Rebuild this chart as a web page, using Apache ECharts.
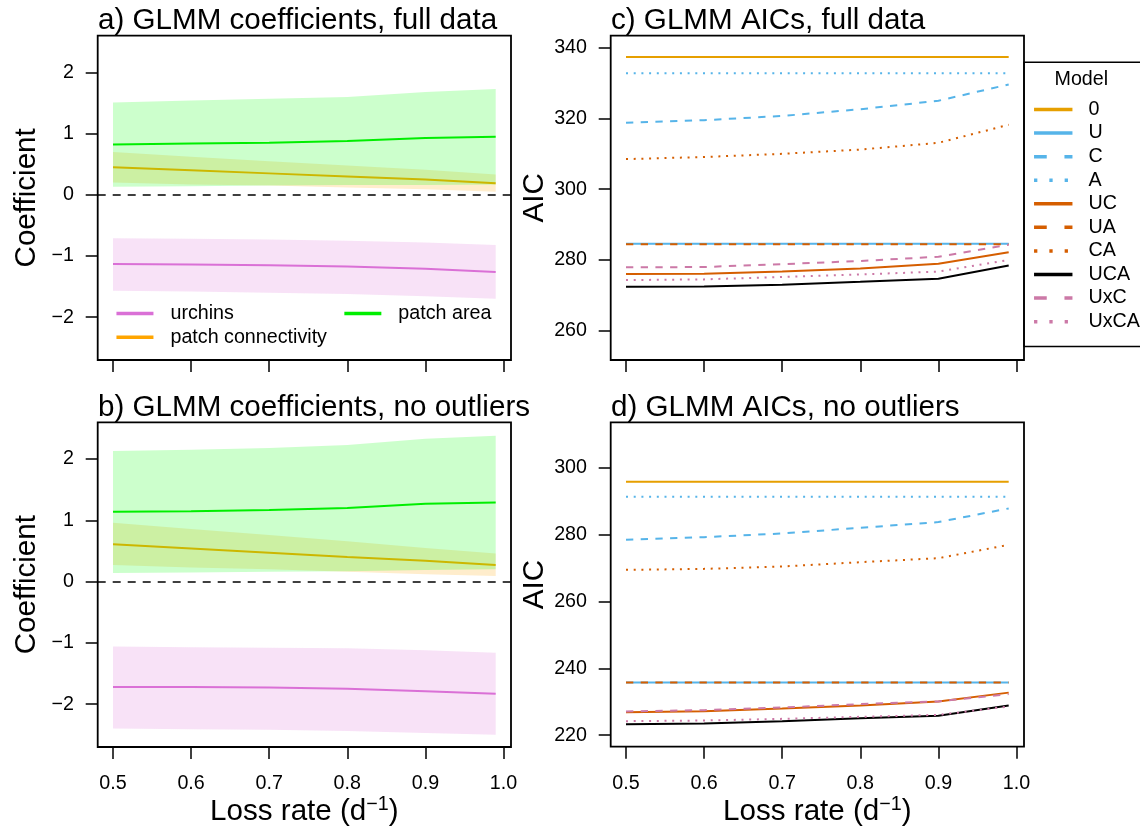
<!DOCTYPE html>
<html><head><meta charset="utf-8">
<script src="https://cdn.jsdelivr.net/npm/echarts@6/dist/echarts.min.js"></script>
<style>html,body{margin:0;padding:0;background:#fff}#c{width:1140px;height:826px}</style>
</head><body><div id="c"></div>
<script>
// ---------------- DATA ----------------
const lossRate = [0.5, 0.6, 0.7, 0.8, 0.9, 0.99];
const xTicks = [0.5, 0.6, 0.7, 0.8, 0.9, 1.0];
const coefTicks = [-2, -1, 0, 1, 2];
const aicFullTicks = [260, 280, 300, 320, 340];
const aicNoOutTicks = [220, 240, 260, 280, 300];

// a) coefficients, full data
const urchinsA    = [-1.13, -1.14, -1.15, -1.17, -1.21, -1.26];
const urchinsA_lo = [-1.57, -1.58, -1.60, -1.62, -1.66, -1.70];
const urchinsA_hi = [-0.71, -0.72, -0.73, -0.75, -0.78, -0.82];
const connA       = [0.45, 0.40, 0.35, 0.30, 0.25, 0.19];
const connA_lo    = [0.20, 0.17, 0.15, 0.12, 0.09, 0.05];
const connA_hi    = [0.70, 0.62, 0.55, 0.48, 0.41, 0.33];
const areaA       = [0.82, 0.84, 0.85, 0.88, 0.93, 0.95];
const areaA_lo    = [0.13, 0.14, 0.15, 0.16, 0.16, 0.17];
const areaA_hi    = [1.51, 1.54, 1.57, 1.60, 1.68, 1.73];

// b) coefficients, no outliers
const urchinsB    = [-1.72, -1.72, -1.73, -1.75, -1.79, -1.83];
const urchinsB_lo = [-2.40, -2.41, -2.42, -2.44, -2.47, -2.50];
const urchinsB_hi = [-1.06, -1.07, -1.08, -1.09, -1.12, -1.16];
const connB       = [0.61, 0.54, 0.47, 0.40, 0.34, 0.27];
const connB_lo    = [0.27, 0.23, 0.20, 0.16, 0.12, 0.09];
const connB_hi    = [0.96, 0.86, 0.76, 0.66, 0.55, 0.46];
const areaB       = [1.14, 1.15, 1.17, 1.20, 1.27, 1.29];
const areaB_lo    = [0.14, 0.15, 0.16, 0.17, 0.19, 0.20];
const areaB_hi    = [2.13, 2.15, 2.18, 2.23, 2.33, 2.38];

// c) AICs, full data
const models = ['0', 'U', 'C', 'A', 'UC', 'UA', 'CA', 'UCA', 'UxC', 'UxCA'];
const aic0Full    = [337.4, 337.4, 337.4, 337.4, 337.4, 337.4];
const aicUFull    = [284.6, 284.6, 284.6, 284.6, 284.6, 284.6];
const aicCFull    = [318.8, 319.5, 320.7, 322.6, 325.0, 329.6];
const aicAFull    = [332.8, 332.8, 332.8, 332.8, 332.8, 332.8];
const aicUCFull   = [276.0, 276.1, 276.7, 277.6, 278.9, 282.2];
const aicUAFull   = [284.4, 284.4, 284.4, 284.4, 284.4, 284.4];
const aicCAFull   = [308.5, 309.1, 310.0, 311.2, 313.1, 318.2];
const aicUCAFull  = [272.4, 272.5, 273.0, 273.8, 274.7, 278.4];
const aicUxCFull  = [277.9, 278.0, 278.8, 279.7, 280.9, 284.3];
const aicUxCAFull = [274.3, 274.5, 275.2, 275.9, 276.7, 280.0];

// d) AICs, no outliers
const aic0NoOut    = [295.9, 295.9, 295.9, 295.9, 295.9, 295.9];
const aicUNoOut    = [235.8, 235.8, 235.8, 235.8, 235.8, 235.8];
const aicCNoOut    = [278.5, 279.3, 280.4, 282.1, 283.8, 287.9];
const aicANoOut    = [291.4, 291.4, 291.4, 291.4, 291.4, 291.4];
const aicUCNoOut   = [226.9, 227.2, 228.0, 228.9, 230.1, 232.75];
const aicUANoOut   = [235.8, 235.8, 235.8, 235.8, 235.8, 235.8];
const aicCANoOut   = [269.5, 269.8, 270.5, 271.8, 273.0, 277.0];
const aicUCANoOut  = [223.3, 223.5, 224.2, 225.1, 225.8, 228.9];
const aicUxCNoOut  = [227.1, 227.5, 228.3, 229.3, 230.1, 232.3];
const aicUxCANoOut = [224.2, 224.4, 224.9, 225.5, 226.1, 228.6];

// ---------------- STYLE ----------------
const FONT = 'Liberation Sans, Arial, Helvetica, sans-serif';
const BASE = 19.7, BIG = 29.6;
const modelStyle = {
  '0':   {color: '#E69F00', dash: 'solid'},
  'U':   {color: '#56B4E9', dash: 'solid'},
  'C':   {color: '#56B4E9', dash: 'dashed'},
  'A':   {color: '#56B4E9', dash: 'dotted'},
  'UC':  {color: '#D55E00', dash: 'solid'},
  'UA':  {color: '#D55E00', dash: 'dashed'},
  'CA':  {color: '#D55E00', dash: 'dotted'},
  'UCA': {color: '#000000', dash: 'solid'},
  'UxC': {color: '#CC79A7', dash: 'dashed'},
  'UxCA':{color: '#CC79A7', dash: 'dotted'}
};
const plotDash = {solid: 'solid', dashed: [7.3, 7.4], dotted: [2, 5.7]};
const legendDash = {solid: 'solid', dashed: [12.7, 17.7], dotted: [3.3, 12]};
const coefStyle = {
  'urchins':            {line: '#DA70D6', band: 'rgba(218,112,214,0.2)'},
  'patch connectivity': {line: '#FFA500', band: 'rgba(255,165,0,0.2)'},
  'patch area':         {line: '#00EE00', band: 'rgba(0,255,0,0.2)'}
};
const coefOrder = {'urchins': 0, 'patch connectivity': 1, 'patch area': 2};

const aicFull = [aic0Full, aicUFull, aicCFull, aicAFull, aicUCFull, aicUAFull, aicCAFull, aicUCAFull, aicUxCFull, aicUxCAFull];
const aicNoOut = [aic0NoOut, aicUNoOut, aicCNoOut, aicANoOut, aicUCNoOut, aicUANoOut, aicCANoOut, aicUCANoOut, aicUxCNoOut, aicUxCANoOut];

function pairs(ys) { return lossRate.map((x, i) => [x, ys[i]]); }

function bandSeries(gi, name, lo, hi, z) {
  const fill = coefStyle[name].band;
  return {
    type: 'custom', name: name + ' band' + gi, xAxisIndex: gi, yAxisIndex: gi, silent: true, z: z,
    data: lossRate.map((x, i) => [x, lo[i], hi[i]]),
    encode: {x: 0, y: [1, 2]},
    renderItem: function (params, api) {
      if (params.dataIndex !== 0) return null;
      const pts = [];
      for (let i = 0; i < lossRate.length; i++) pts.push(api.coord([lossRate[i], hi[i]]));
      for (let i = lossRate.length - 1; i >= 0; i--) pts.push(api.coord([lossRate[i], lo[i]]));
      return {type: 'polygon', shape: {points: pts}, style: {fill: fill, stroke: null}};
    }
  };
}

function coefSeries(gi, name, mid, lo, hi, withZero) {
  const st = coefStyle[name];
  const zb = 2 + coefOrder[name] * 2;
  const line = {type: 'line', name: name, xAxisIndex: gi, yAxisIndex: gi, data: pairs(mid), symbol: 'none',
    silent: true, z: zb + 1, lineStyle: {color: st.line, width: 2}, itemStyle: {color: st.line}};
  if (withZero) {
    line.markLine = {silent: true, symbol: 'none', animation: false,
      label: {show: false}, lineStyle: {color: '#000', width: 1.5, type: [8, 7]},
      data: [{yAxis: 0}]};
  }
  return [bandSeries(gi, name, lo, hi, zb), line];
}

function aicSeries(gi, arrs) {
  return models.map((m, k) => ({
    type: 'line', name: m, xAxisIndex: gi, yAxisIndex: gi, data: pairs(arrs[k]),
    symbol: 'none', silent: true, z: 2 + k,
    lineStyle: {color: modelStyle[m].color, width: 2, type: plotDash[modelStyle[m].dash]},
    itemStyle: {color: modelStyle[m].color}
  }));
}

const grids = [
  {left: 97.7, top: 35.7, width: 413.3, height: 324.3},
  {left: 97.7, top: 422.3, width: 413.3, height: 324.7},
  {left: 610.7, top: 35.7, width: 413.3, height: 324.3},
  {left: 610.7, top: 422.3, width: 413.3, height: 324.4}
].map(g => Object.assign({show: true, borderColor: '#000', borderWidth: 1.8, z: 20,
  backgroundColor: 'transparent', containLabel: false, outerBoundsMode: 'none'}, g));

const xName = '{b|Loss rate (d}{s|\u22121}{b|)}';
const xAxes = [0, 1, 2, 3].map(i => ({
  type: 'value', gridIndex: i, min: 0.4804, max: 1.0096,
  axisLine: {show: false, onZero: false}, splitLine: {show: false},
  axisTick: {show: true, length: 12, lineStyle: {color: '#000', width: 1.5}, customValues: xTicks},
  axisLabel: {show: i === 1 || i === 3, customValues: xTicks, formatter: v => v.toFixed(1),
    margin: 27, fontSize: BASE, color: '#000', fontFamily: FONT},
  name: (i === 1 || i === 3) ? xName : '',
  nameLocation: 'middle', nameGap: 45,
  nameTextStyle: {rich: {
    b: {fontSize: BIG, lineHeight: 34, color: '#000', fontFamily: FONT},
    s: {fontSize: BASE, lineHeight: 22, verticalAlign: 'top', color: '#000', fontFamily: FONT}
  }}
}));

const yRanges = [[-2.70, 2.60], [-2.70, 2.60], [251.71, 343.39], [216.56, 313.68]];
const yTickSets = [coefTicks, coefTicks, aicFullTicks, aicNoOutTicks];
const yNames = ['Coefficient', 'Coefficient', 'AIC', 'AIC'];
const yAxes = [0, 1, 2, 3].map(i => ({
  type: 'value', gridIndex: i, min: yRanges[i][0], max: yRanges[i][1],
  axisLine: {show: false, onZero: false}, splitLine: {show: false},
  axisTick: {show: true, length: 12, lineStyle: {color: '#000', width: 1.5}, customValues: yTickSets[i]},
  axisLabel: {show: true, customValues: yTickSets[i], margin: 23.7, fontSize: BASE, color: '#000', fontFamily: FONT,
    formatter: v => (v < 0 ? '\u2212' + Math.abs(v) : String(v))},
  name: yNames[i], nameLocation: 'middle', nameGap: 56, nameRotate: 90,
  nameTextStyle: {fontSize: BIG, color: '#000', fontFamily: FONT}
}));

const titleStyle = {fontSize: BIG, fontWeight: 'normal', color: '#000', fontFamily: FONT};
const series = [].concat(
  coefSeries(0, 'urchins', urchinsA, urchinsA_lo, urchinsA_hi, true),
  coefSeries(0, 'patch connectivity', connA, connA_lo, connA_hi, false),
  coefSeries(0, 'patch area', areaA, areaA_lo, areaA_hi, false),
  coefSeries(1, 'urchins', urchinsB, urchinsB_lo, urchinsB_hi, true),
  coefSeries(1, 'patch connectivity', connB, connB_lo, connB_hi, false),
  coefSeries(1, 'patch area', areaB, areaB_lo, areaB_hi, false),
  aicSeries(2, aicFull),
  aicSeries(3, aicNoOut)
);

const legendCommon = {
  orient: 'vertical', itemHeight: BASE, selectedMode: false,
  textStyle: {fontSize: BASE, color: '#000', fontFamily: FONT, padding: [0, 0, 0, 11]},
  itemStyle: {opacity: 0}, lineStyle: {width: 3.5}
};

const option = {
  animation: false,
  backgroundColor: '#fff',
  title: [
    {text: 'a) GLMM coefficients, full data', left: 98, top: 6, padding: 0, textStyle: titleStyle},
    {text: 'b) GLMM coefficients, no outliers', left: 98, top: 393, padding: 0, textStyle: titleStyle},
    {text: 'c) GLMM AICs, full data', left: 611, top: 6, padding: 0, textStyle: titleStyle},
    {text: 'd) GLMM AICs, no outliers', left: 611, top: 393, padding: 0, textStyle: titleStyle},
    {text: 'Model', left: 1054.5, top: 70, padding: 0,
     textStyle: {fontSize: BASE, fontWeight: 'normal', color: '#000', fontFamily: FONT}}
  ],
  grid: grids,
  xAxis: xAxes,
  yAxis: yAxes,
  legend: [
    Object.assign({}, legendCommon, {left: 114.7, top: 303.45, padding: 0, itemGap: 3.7, itemWidth: 37,
      textStyle: {fontSize: BASE, color: '#000', fontFamily: FONT, padding: [0, 0, 0, 12]},
      data: ['urchins', 'patch connectivity']}),
    Object.assign({}, legendCommon, {left: 342.6, top: 303.45, padding: 0, itemGap: 3.7, itemWidth: 37,
      textStyle: {fontSize: BASE, color: '#000', fontFamily: FONT, padding: [0, 0, 0, 12]},
      data: ['patch area']}),
    Object.assign({}, legendCommon, {left: 1024, top: 62.3, padding: [37.2, 100, 14.8, 8.3],
      borderColor: '#000', borderWidth: 1.5, itemGap: 3.57, itemWidth: 38.4,
      data: models.map(m => ({name: m, lineStyle: {type: legendDash[modelStyle[m].dash]}}))})
  ],
  series: series
};

const chart = echarts.init(document.getElementById('c'), null, {renderer: 'canvas'});
chart.setOption(option);
</script>
</body></html>
